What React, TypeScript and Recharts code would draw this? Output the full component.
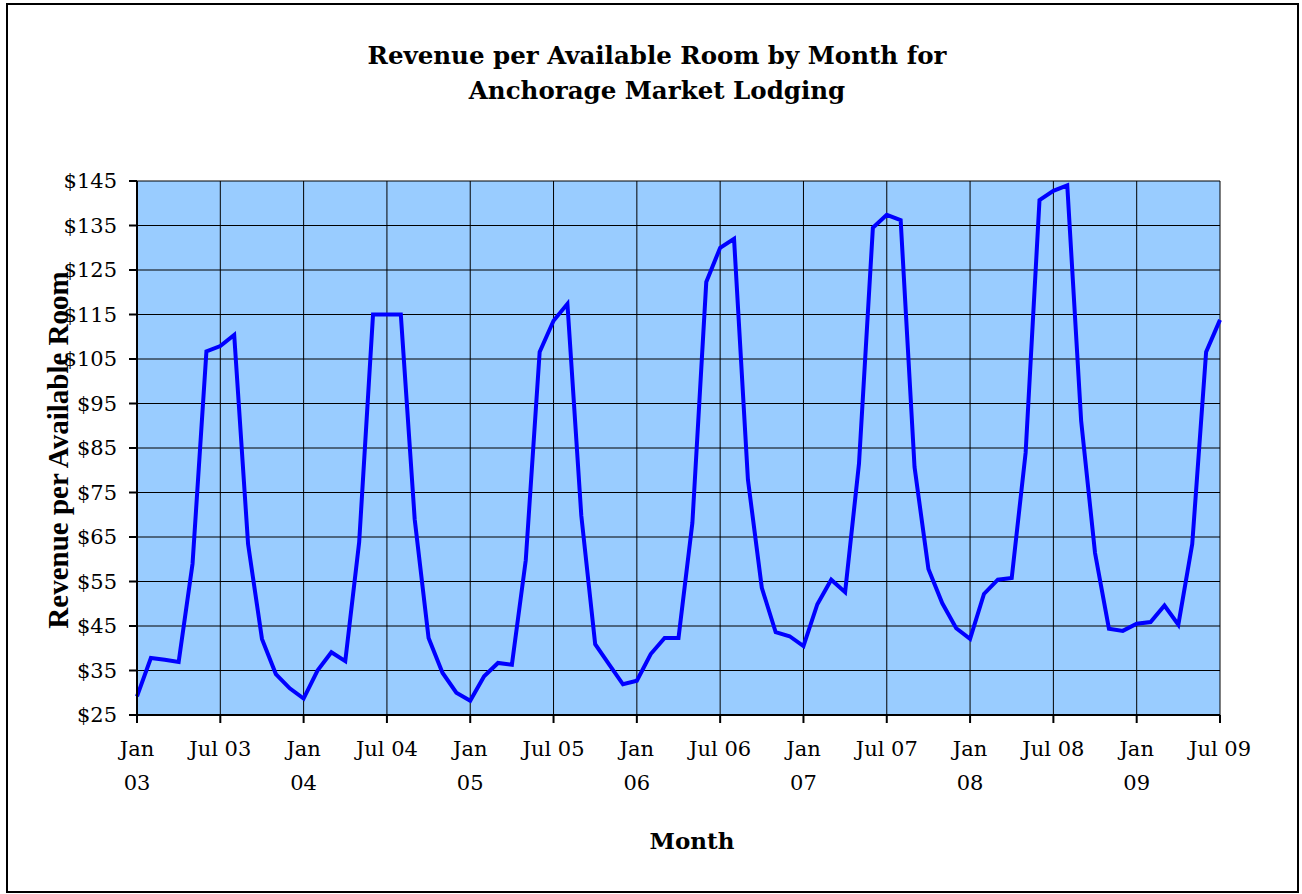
import React from 'react';
import { LineChart, Line, XAxis, YAxis, CartesianGrid } from 'recharts';

// Month abbreviations and years for the category axis (Jan 03 .. Jul 09)
const MONTHS = ['Jan', 'Feb', 'Mar', 'Apr', 'May', 'Jun', 'Jul', 'Aug', 'Sep', 'Oct', 'Nov', 'Dec'];
const YEARS = ['03', '04', '05', '06', '07', '08', '09'];

// RevPAR by month
const REVPAR = [
  29.2, 37.8, 37.4, 36.9, 59.0, 106.7, 107.9, 110.4, 63.4, 42.1, 34.2, 31.0,
  28.7, 35.0, 39.1, 37.1, 63.8, 115.0, 115.0, 115.0, 69.0, 42.3, 34.5, 30.0,
  28.2, 33.7, 36.7, 36.3, 59.8, 106.6, 113.6, 117.4, 69.8, 40.9, 36.4, 31.9,
  32.7, 38.7, 42.3, 42.3, 68.2, 122.3, 130.0, 132.0, 77.9, 53.6, 43.6, 42.7,
  40.5, 49.9, 55.4, 52.6, 81.5, 134.5, 137.4, 136.2, 80.7, 57.8, 50.1, 44.5,
  42.1, 52.2, 55.4, 55.8, 83.9, 140.7, 142.8, 144.0, 91.1, 61.4, 44.4, 43.9,
  45.5, 45.9, 49.6, 45.3, 63.4, 106.6, 113.8,
];

const Y_TICKS = [25, 35, 45, 55, 65, 75, 85, 95, 105, 115, 125, 135, 145];

const data = REVPAR.map((v, i) => ({
  month: `${MONTHS[i % 12]} ${YEARS[Math.floor(i / 12)]}`,
  revpar: v,
}));

const SERIF = '"DejaVu Serif", serif';

// Jan labels wrap onto two lines, Jul labels fit on one
const MonthTick = ({ x, y, payload }: any) => {
  const [m, yr] = String(payload.value).split(' ');
  const twoLines = m === 'Jan';
  return (
    <text x={x} y={y} textAnchor="middle" fill="#000" fontFamily={SERIF} fontSize={21}>
      {twoLines ? (
        <>
          <tspan x={x} dy={33}>{m}</tspan>
          <tspan x={x} dy={34}>{yr}</tspan>
        </>
      ) : (
        <tspan x={x} dy={33}>{payload.value}</tspan>
      )}
    </text>
  );
};

export default function App() {
  return (
    <div style={{ position: 'absolute', left: 0, top: 0, width: 1302, height: 894, background: '#fff' }}>
      <div
        style={{
          position: 'absolute',
          left: 6,
          top: 3,
          width: 1293,
          height: 890,
          border: '2px solid #000',
          boxSizing: 'border-box',
        }}
      />
      <div
        style={{
          position: 'absolute',
          left: 0,
          width: 1314,
          top: 38,
          textAlign: 'center',
          fontFamily: SERIF,
          fontWeight: 'bold',
          fontSize: 24.5,
          lineHeight: '35px',
        }}
      >
        Revenue per Available Room by Month for
        <br />
        Anchorage Market Lodging
      </div>
      <div
        style={{
          position: 'absolute',
          left: 58,
          top: 450,
          transform: 'translate(-50%, -50%) rotate(-90deg)',
          whiteSpace: 'nowrap',
          fontFamily: '"Liberation Serif", serif',
          fontWeight: 'bold',
          fontSize: 29,
        }}
      >
        Revenue per Available Room
      </div>
      <div
        style={{
          position: 'absolute',
          left: 692,
          top: 840,
          transform: 'translate(-50%, -50%)',
          fontFamily: SERIF,
          fontWeight: 'bold',
          fontSize: 23,
        }}
      >
        Month
      </div>
      <div style={{ position: 'absolute', left: 0, top: 0 }}>
        <LineChart
          width={1302}
          height={894}
          data={data}
          margin={{ top: 181, right: 82, bottom: 119, left: 57 }}
        >
          <CartesianGrid stroke="#000" strokeWidth={1} fill="#99CCFF" fillOpacity={1} />
          <XAxis
            dataKey="month"
            interval={5}
            height={60}
            tickSize={8}
            tickMargin={0}
            stroke="#000"
            strokeWidth={2}
            tick={<MonthTick />}
          />
          <YAxis
            domain={[25, 145]}
            ticks={Y_TICKS}
            width={80}
            tickSize={8}
            tickMargin={12}
            stroke="#000"
            strokeWidth={2}
            tickFormatter={(v) => `$${v}`}
            tick={{ fill: '#000', fontFamily: SERIF, fontSize: 21 }}
          />
          <Line
            type="linear"
            dataKey="revpar"
            stroke="#0000FF"
            strokeWidth={4}
            dot={false}
            isAnimationActive={false}
          />
        </LineChart>
      </div>
    </div>
  );
}
